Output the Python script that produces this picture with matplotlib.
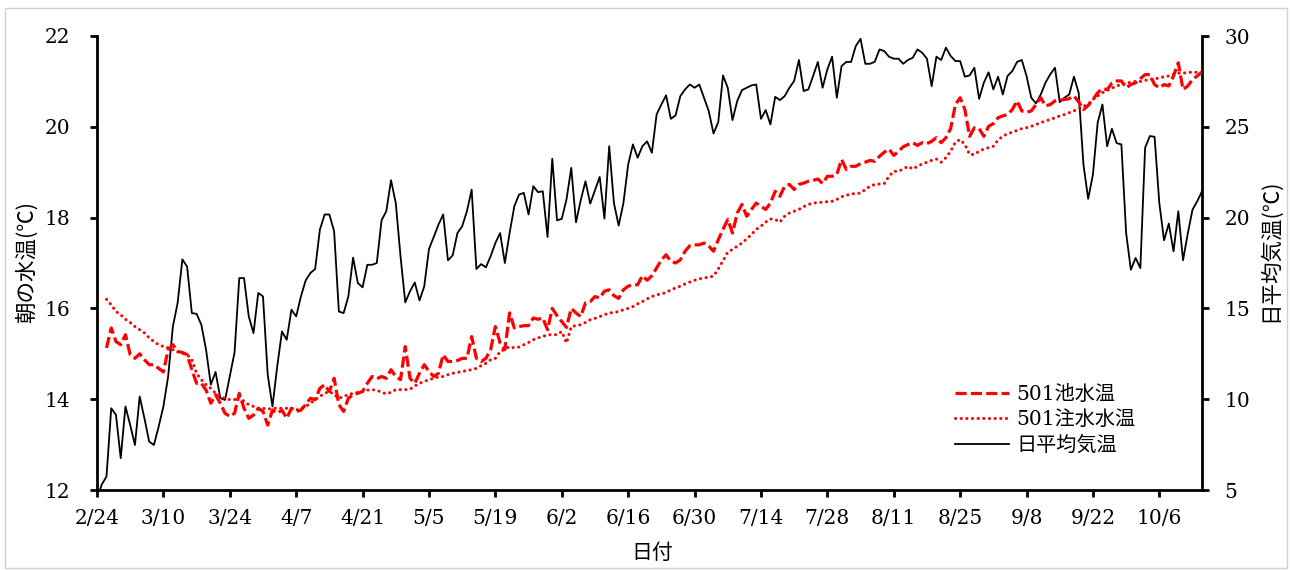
import numpy as np
import pandas as pd
import matplotlib
matplotlib.use("Agg")
import matplotlib.pyplot as plt
from matplotlib.patches import Rectangle
from matplotlib.font_manager import FontProperties

# ---------------- data ----------------
start_date = "2015-02-24"
water_start_offset = 2  # water series start on 2/26

tick_labels = ["2/24", "3/10", "3/24", "4/7", "4/21", "5/5", "5/19", "6/2", "6/16",
               "6/30", "7/14", "7/28", "8/11", "8/25", "9/8", "9/22", "10/6"]

air_temp = [
    4.5, 5.3, 5.74, 9.5, 9.14, 6.75, 9.6, 8.58, 7.48, 10.15,
    8.95, 7.67, 7.48, 8.49, 9.6, 11.25, 14.0, 15.3, 17.7, 17.3,
    14.74, 14.7, 14.1, 12.72, 10.8, 11.5, 10.06, 9.96, 11.25, 12.57,
    16.67, 16.67, 14.56, 13.64, 15.85, 15.66, 11.34, 9.6, 11.8, 13.73,
    13.27, 14.93, 14.56, 15.66, 16.54, 16.95, 17.17, 19.34, 20.17, 20.17,
    19.25, 14.83, 14.74, 15.66, 17.8, 16.4, 16.16, 17.4, 17.4, 17.5,
    19.85, 20.35, 22.06, 20.8, 17.87, 15.33, 15.94, 16.43, 15.44, 16.21,
    18.27, 18.93, 19.61, 20.17, 17.65, 17.92, 19.15, 19.52, 20.35, 21.54,
    17.17, 17.44, 17.26, 17.87, 18.6, 19.15, 17.5, 19.15, 20.63, 21.27,
    21.36, 20.17, 21.73, 21.4, 21.45, 18.93, 23.24, 19.85, 19.93, 21.0,
    22.74, 19.74, 20.96, 22.0, 20.77, 21.5, 22.24, 19.94, 23.93, 20.8,
    19.56, 20.8, 22.92, 24.03, 23.3, 23.93, 24.2, 23.57, 25.68, 26.23,
    26.73, 25.44, 25.63, 26.69, 27.06, 27.33, 27.15, 27.33, 26.6, 25.86,
    24.63, 25.26, 27.83, 27.15, 25.37, 26.42, 27.02, 27.15, 27.28, 27.33,
    25.44, 25.92, 25.13, 26.65, 26.47, 26.69, 27.15, 27.52, 28.68, 26.97,
    27.06, 27.8, 28.57, 27.15, 28.16, 28.86, 26.6, 28.35, 28.57, 28.57,
    29.45, 29.85, 28.47, 28.47, 28.58, 29.26, 29.17, 28.86, 28.75, 28.75,
    28.47, 28.68, 28.8, 29.26, 29.08, 28.75, 27.24, 28.86, 28.68, 29.36,
    28.9, 28.62, 28.62, 27.76, 27.83, 28.25, 26.54, 27.43, 28.0, 27.06,
    27.76, 26.78, 27.8, 28.07, 28.57, 28.68, 27.8, 26.6, 26.29, 26.78,
    27.43, 27.89, 28.25, 26.36, 26.6, 26.78, 27.76, 26.87, 22.92, 21.03,
    22.37, 25.22, 26.23, 23.93, 24.89, 24.1, 24.03, 19.15, 17.13, 17.78,
    17.22, 23.84, 24.49, 24.45, 20.8, 18.75, 19.67, 18.14, 20.35, 17.65,
    19.12, 20.44, 20.9, 21.45,
]

pond_temp = [
    15.13, 15.57, 15.27, 15.2, 15.42, 14.98, 14.9, 15.0,
    14.87, 14.76, 14.76, 14.68, 14.6, 15.09, 15.2, 15.05, 15.03, 14.98,
    14.65, 14.35, 14.35, 14.2, 13.91, 14.1, 13.91, 13.69, 13.62, 13.69,
    14.13, 13.8, 13.58, 13.65, 13.8, 13.73, 13.43, 13.76, 13.69, 13.76,
    13.58, 13.8, 13.73, 13.76, 13.88, 14.02, 13.99, 14.24, 14.32, 14.17,
    14.46, 13.88, 13.73, 14.02, 14.1, 14.13, 14.17, 14.35, 14.5, 14.45,
    14.5, 14.46, 14.65, 14.5, 14.43, 15.16, 14.46, 14.35, 14.57, 14.76,
    14.61, 14.5, 14.57, 14.98, 14.83, 14.83, 14.85, 14.9, 14.9, 15.38,
    14.9, 14.83, 14.9, 15.09, 15.6, 15.24, 15.09, 15.9, 15.57, 15.6,
    15.62, 15.62, 15.79, 15.76, 15.79, 15.53, 16.0, 15.84, 15.71, 15.58,
    16.0, 15.9, 15.82, 16.12, 16.15, 16.26, 16.23, 16.38, 16.41, 16.28,
    16.22, 16.41, 16.49, 16.52, 16.52, 16.72, 16.62, 16.72, 16.89, 17.07,
    17.18, 17.04, 17.0, 17.07, 17.26, 17.38, 17.4, 17.4, 17.44, 17.37,
    17.26, 17.51, 17.74, 17.96, 17.66, 18.1, 18.29, 18.03, 18.18, 18.32,
    18.25, 18.18, 18.32, 18.58, 18.47, 18.69, 18.73, 18.62, 18.73, 18.76,
    18.8, 18.82, 18.85, 18.75, 18.91, 18.91, 18.95, 19.28, 19.06, 19.13,
    19.13, 19.19, 19.22, 19.26, 19.24, 19.35, 19.44, 19.51, 19.37, 19.46,
    19.56, 19.61, 19.65, 19.59, 19.65, 19.63, 19.68, 19.76, 19.65, 19.76,
    19.96, 20.49, 20.64, 20.38, 19.79, 19.98, 19.96, 19.79, 20.01, 20.07,
    20.2, 20.24, 20.27, 20.38, 20.57, 20.35, 20.32, 20.35, 20.49, 20.64,
    20.46, 20.49, 20.57, 20.59, 20.6, 20.62, 20.68, 20.55, 20.38, 20.47,
    20.6, 20.75, 20.84, 20.82, 20.96, 21.01, 21.01, 20.86, 20.93, 20.97,
    21.06, 21.15, 21.15, 20.93, 20.86, 20.93, 20.9, 21.12, 21.41, 20.82,
    20.9, 21.04, 21.12, 21.21,
]

inflow_temp = [
    16.2, 16.08, 15.93, 15.86, 15.76, 15.69, 15.6, 15.53,
    15.46, 15.35, 15.27, 15.2, 15.16, 15.13, 15.09, 15.05, 15.01, 14.98,
    14.87, 14.57, 14.43, 14.32, 14.24, 14.13, 14.06, 14.02, 13.99, 13.99,
    14.06, 13.95, 13.88, 13.84, 13.8, 13.8, 13.78, 13.8, 13.8, 13.8,
    13.8, 13.8, 13.76, 13.8, 13.84, 13.91, 13.99, 14.06, 14.13, 14.17,
    14.1, 14.02, 14.06, 14.1, 14.13, 14.15, 14.17, 14.2, 14.21, 14.2,
    14.15, 14.12, 14.15, 14.21, 14.21, 14.21, 14.22, 14.29, 14.35, 14.39,
    14.43, 14.46, 14.49, 14.5, 14.54, 14.57, 14.59, 14.61, 14.63, 14.65,
    14.68, 14.74, 14.79, 14.87, 14.9, 15.05, 15.1, 15.16, 15.13, 15.15,
    15.2, 15.25, 15.31, 15.35, 15.38, 15.42, 15.42, 15.42, 15.49, 15.24,
    15.6, 15.62, 15.64, 15.69, 15.75, 15.78, 15.82, 15.86, 15.9, 15.91,
    15.93, 15.97, 16.0, 16.04, 16.1, 16.15, 16.21, 16.26, 16.3, 16.32,
    16.35, 16.41, 16.45, 16.49, 16.54, 16.58, 16.62, 16.65, 16.67, 16.69,
    16.71, 16.87, 17.05, 17.24, 17.3, 17.37, 17.44, 17.53, 17.63, 17.74,
    17.81, 17.9, 17.97, 17.96, 17.9, 18.03, 18.1, 18.14, 18.18, 18.24,
    18.29, 18.32, 18.33, 18.34, 18.35, 18.36, 18.4, 18.46, 18.49, 18.52,
    18.53, 18.54, 18.62, 18.69, 18.73, 18.74, 18.75, 18.91, 19.02, 19.02,
    19.07, 19.13, 19.07, 19.13, 19.18, 19.22, 19.26, 19.29, 19.22, 19.32,
    19.46, 19.66, 19.72, 19.61, 19.39, 19.39, 19.46, 19.51, 19.54, 19.57,
    19.71, 19.79, 19.85, 19.88, 19.92, 19.96, 19.98, 20.01, 20.05, 20.09,
    20.13, 20.16, 20.2, 20.24, 20.27, 20.31, 20.35, 20.4, 20.45, 20.5,
    20.6, 20.68, 20.75, 20.8, 20.85, 20.9, 20.93, 20.96, 20.98, 21.0,
    21.0, 21.02, 21.05, 21.05, 21.08, 21.1, 21.12, 21.15, 21.18, 21.18,
    21.2, 21.2, 21.2, 21.2,
]

labels = ["501池水温", "501注水水温", "日平均気温"]

# ---------------- figure ----------------
W, H = 1290, 570
fig = plt.figure(figsize=(W / 100, H / 100), dpi=100)
fig.patch.set_facecolor("white")
fig.add_artist(Rectangle((5 / W, 2 / H), 1282 / W, 560 / H, transform=fig.transFigure,
                         fill=False, edgecolor="#d0d0d0", linewidth=1.0))

x0, x1, ytop, ybot = 97, 1202, 36, 490
ax = fig.add_axes([x0 / W, 1 - ybot / H, (x1 - x0) / W, (ybot - ytop) / H])
ax2 = ax.twinx()

dates_air = pd.date_range(start_date, periods=len(air_temp))
dates_water = pd.date_range(pd.Timestamp(start_date) + pd.Timedelta(days=water_start_offset),
                            periods=len(pond_temp))
dates_inflow = pd.date_range(pd.Timestamp(start_date) + pd.Timedelta(days=water_start_offset),
                             periods=len(inflow_temp))

l1, = ax.plot(dates_water, pond_temp, color="#ff0000", lw=2.3,
              linestyle=(0, (3.5, 1.3)), dash_capstyle="butt", zorder=3)
l2, = ax.plot(dates_inflow, inflow_temp, color="#ff0000", lw=2.2,
              linestyle=(0, (0.05, 1.8)), dash_capstyle="round", zorder=3)
l3, = ax2.plot(dates_air, air_temp, color="black", lw=1.3, zorder=2)

ax.set_zorder(ax2.get_zorder() + 1)
ax.patch.set_visible(False)

ax.set_xlim(dates_air[0], dates_air[-1])
ax.set_ylim(12, 22)
ax2.set_ylim(5, 30)
ax.set_yticks(np.arange(12, 23, 2))
ax2.set_yticks(np.arange(5, 31, 5))
tick_dates = pd.date_range(start_date, periods=len(tick_labels), freq="14D")
ax.set_xticks(tick_dates)
ax.set_xticklabels(tick_labels)

serif = FontProperties(family="DejaVu Serif", size=14.5)
for lab in ax.get_xticklabels() + ax.get_yticklabels() + ax2.get_yticklabels():
    lab.set_fontproperties(serif)

for a in (ax, ax2):
    a.spines["top"].set_visible(False)
    for s in a.spines.values():
        s.set_linewidth(2.0)
ax.spines["right"].set_visible(False)
ax2.spines["left"].set_visible(False)
ax2.spines["bottom"].set_visible(False)

ax.tick_params(axis="y", direction="out", length=5, width=2, pad=14)
ax.tick_params(axis="x", direction="out", length=5, width=2, pad=9)
ax2.tick_params(axis="y", direction="out", length=5, width=2, pad=11)

cjk = ["Noto Sans CJK JP", "DejaVu Sans"]
fig.text(27 / W, 1 - 262 / H, "朝の水温(℃)", rotation=90, ha="center", va="center",
         family=cjk, fontsize=15.5)
fig.text(1270 / W, 1 - 250 / H, "日平均気温(℃)", rotation=90, ha="center", va="center",
         family=cjk, fontsize=15.5)
fig.text(652 / W, 1 - 553 / H, "日付", ha="center", va="center", family=cjk, fontsize=15)

leg = ax.legend([l1, l2, l3], labels, loc="upper left",
                bbox_to_anchor=(955 / W, 1 - 385 / H), bbox_transform=fig.transFigure,
                frameon=False, borderpad=0, borderaxespad=0, handlelength=2.7,
                handletextpad=0.35, labelspacing=0.32,
                prop=FontProperties(family=["DejaVu Serif", "Noto Sans CJK JP"], size=14.5))

fig.savefig("out.png", dpi=100)
